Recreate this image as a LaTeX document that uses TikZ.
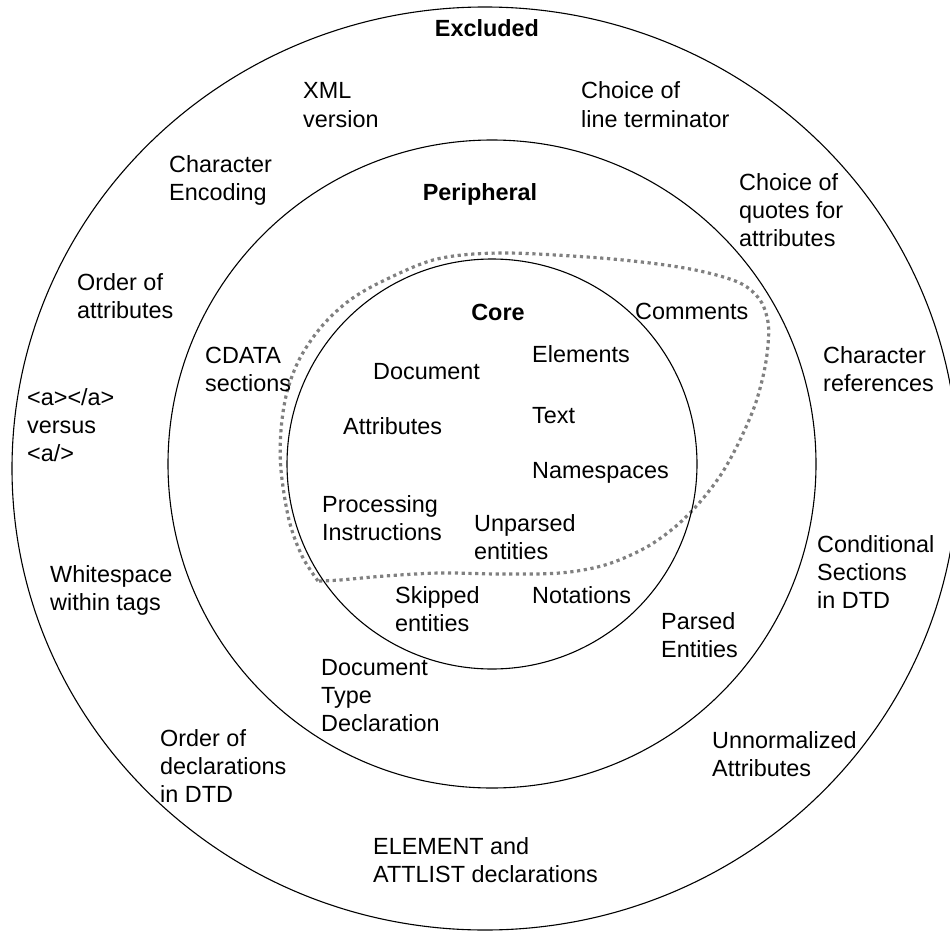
\documentclass[tikz,border=0pt]{standalone}
\usepackage{fontspec}
\setmainfont{Liberation Sans}
\definecolor{dotgray}{RGB}{128,128,128}
\newcommand{\lbl}[1]{\begin{tabular}[t]{@{}l@{}}#1\end{tabular}}
\begin{document}
\begin{tikzpicture}[x=1pt,y=-1pt,
  ring/.style={draw=black, line width=1.1pt},
  zone/.style={draw=dotgray, line width=3.2pt, dash pattern=on 3.2pt off 3.6pt},
  lab/.style={inner sep=0pt, anchor=base west, font=\fontsize{23.4}{28.3}\selectfont},
  head/.style={inner sep=0pt, anchor=base, font=\fontsize{23.4}{28.3}\selectfont\bfseries}]
\useasboundingbox (0,0) rectangle (950,931);
\begin{scope}
\clip (0,0) rectangle (950,931);
% dotted boundary
\draw[zone] plot[smooth, tension=0.55] coordinates {
 (318,581) (302,556) (289,520) (281,470) (281,430) (287,392) (300,358)
 (322,326) (350,300) (385,280) (437,259) (500,253) (587,257) (650,263)
 (700,271) (740,283) (760,300) (768,322) (768,345) (764,372) (755,405)
 (740,440) (722,473) (700,502) (675,527) (645,548) (605,565) (560,573)
 (500,574) (440,573) (385,576) (340,580) (318,581)};
% rings
\draw[ring] (485,468.5) ellipse [x radius=473, y radius=461.5];
\draw[ring] (492,464) circle [radius=324];
\draw[ring] (492,464) circle [radius=205];
\end{scope}
% headings
\node[head] (excl) at (487,37) {Excluded};
\node[head] (periph) at (480,200) {Peripheral};
\node[head] (core) at (498,320) {Core};
% excluded ring
\node[lab] (xml) at (303,99) {\lbl{XML\\version}};
\node[lab] (lineterm) at (581,99) {\lbl{Choice of\\line terminator}};
\node[lab] (charenc) at (169,172) {\lbl{Character\\Encoding}};
\node[lab] (quotes) at (739,190) {\lbl{Choice of\\quotes for\\attributes}};
\node[lab] (orderattr) at (77,290) {\lbl{Order of\\attributes}};
\node[lab] (charref) at (823,363) {\lbl{Character\\references}};
\node[lab] (avsa) at (27,405) {\lbl{<a></a>\\versus\\<a/>}};
\node[lab] (conditional) at (817,552) {\lbl{Conditional\\Sections\\in DTD}};
\node[lab] (whitespace) at (50,582) {\lbl{Whitespace\\within tags}};
\node[lab] (orderdecl) at (160,746) {\lbl{Order of\\declarations\\in DTD}};
\node[lab] (unnorm) at (712,748) {\lbl{Unnormalized\\Attributes}};
\node[lab] (element) at (373,854) {\lbl{ELEMENT and\\ATTLIST declarations}};
% peripheral ring
\node[lab] (cdata) at (205,363) {\lbl{CDATA\\sections}};
\node[lab] (comments) at (635,319) {Comments};
\node[lab] (parsed) at (661,629) {\lbl{Parsed\\Entities}};
\node[lab] (doctype) at (321,675) {\lbl{Document\\Type\\Declaration}};
% core
\node[lab] (elements) at (532,362) {Elements};
\node[lab] (document) at (373,379) {Document};
\node[lab] (attributes) at (343,434) {Attributes};
\node[lab] (text) at (532,423) {Text};
\node[lab] (namespaces) at (532,478) {Namespaces};
\node[lab] (pi) at (322,512) {\lbl{Processing\\Instructions}};
\node[lab] (unparsed) at (474,531) {\lbl{Unparsed\\entities}};
\node[lab] (skipped) at (395,603) {\lbl{Skipped\\entities}};
\node[lab] (notations) at (532,603) {Notations};
\end{tikzpicture}
\end{document}
